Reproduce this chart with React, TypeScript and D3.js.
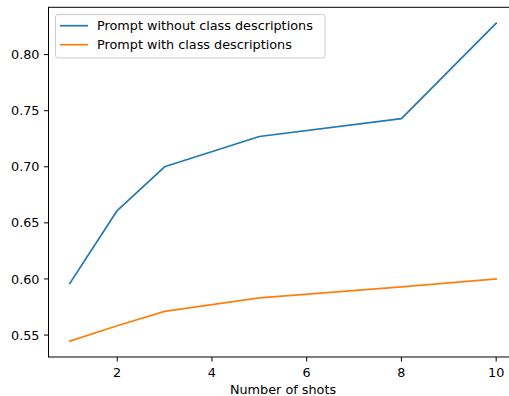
import React from "react";
import * as d3 from "d3";

const shots = [1, 2, 3, 5, 8, 10];
const withoutDesc = [0.596, 0.661, 0.700, 0.727, 0.743, 0.828];
const withDesc = [0.5446, 0.5583, 0.5711, 0.5832, 0.593, 0.600];
const xTicks = [2, 4, 6, 8, 10];
const yTicks = [0.55, 0.6, 0.65, 0.7, 0.75, 0.8];
const seriesNames = ["Prompt without class descriptions", "Prompt with class descriptions"];
const colors = ["#1f77b4", "#ff7f0e"];

const W = 509, H = 396;
const L = 48.5, R = 517.5, T = 7.3, B = 357;
const FONT = "DejaVu Sans, sans-serif";
const FS = 12.8;

export default function App() {
  const xs = d3.scaleLinear().domain([1 - 0.45, 10 + 0.45]).range([L, R]);
  const all = [...withoutDesc, ...withDesc];
  const mn = d3.min(all)!, mx = d3.max(all)!;
  const m = (mx - mn) * 0.05;
  const ys = d3.scaleLinear().domain([mn - m, mx + m]).range([B, T]);
  const line = d3.line<number>().x((_, i) => xs(shots[i])).y((d) => ys(d));
  const series = [withoutDesc, withDesc];

  return (
    <svg width={W} height={H} style={{ position: "absolute", left: 0, top: 0, background: "#fff" }}
      fontFamily={FONT}>
      <defs>
        <clipPath id="plot"><rect x={L} y={T} width={R - L} height={B - T} /></clipPath>
      </defs>
      <rect x={0} y={0} width={W} height={H} fill="#fff" />
      {series.map((s, k) => (
        <path key={k} d={line(s)!} fill="none" stroke={colors[k]} strokeWidth={1.7}
          strokeLinecap="square" strokeLinejoin="round" clipPath="url(#plot)" />
      ))}
      <rect x={L} y={T} width={R - L} height={B - T} fill="none" stroke="#000" strokeWidth={1} />
      {xTicks.map((t) => (
        <g key={t}>
          <line x1={xs(t)} x2={xs(t)} y1={B} y2={B + 4.5} stroke="#000" strokeWidth={1} />
          <text x={xs(t)} y={376.5} textAnchor="middle" fontSize={FS} fill="#000">{t}</text>
        </g>
      ))}
      {yTicks.map((t) => (
        <g key={t}>
          <line x1={L - 4.5} x2={L} y1={ys(t)} y2={ys(t)} stroke="#000" strokeWidth={1} />
          <text x={39.5} y={ys(t)} dy="0.36em" textAnchor="end" fontSize={FS} fill="#000">{t.toFixed(2)}</text>
        </g>
      ))}
      <text x={(L + R) / 2} y={393.5} textAnchor="middle" fontSize={FS} fill="#000">Number of shots</text>
      <rect x={55.5} y={14.5} width={269.5} height={43.5} rx={2.5} fill="#fff" fillOpacity={0.8}
        stroke="#cccccc" strokeWidth={1} />
      {seriesNames.map((n, k) => (
        <g key={n}>
          <line x1={60} x2={88} y1={25.7 + k * 19} y2={25.7 + k * 19} stroke={colors[k]} strokeWidth={1.7} />
          <text x={97} y={25.7 + k * 19} dy="0.36em" fontSize={FS} fill="#000">{n}</text>
        </g>
      ))}
    </svg>
  );
}
